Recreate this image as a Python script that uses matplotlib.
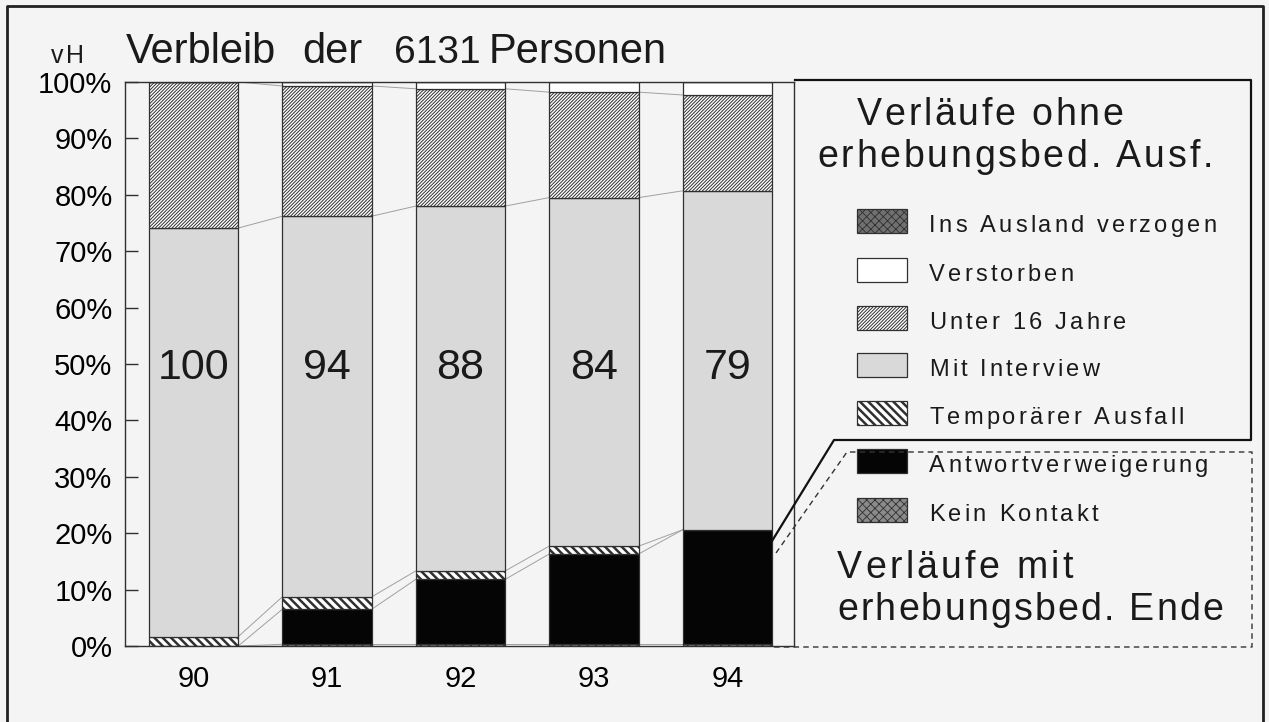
"""Verbleib der 6131 Personen - stacked bars per wave, scanned report figure."""
import matplotlib
matplotlib.use("Agg")
import matplotlib.pyplot as plt
from matplotlib.patches import Rectangle
from matplotlib.font_manager import FontProperties, findfont
from matplotlib.ft2font import FT2Font

W, H = 1269, 722

# data (vH of the 6131 persons of wave 90)
waves = ["90", "91", "92", "93", "94"]
bar_labels = ["100", "94", "88", "84", "79"]
kein_kontakt = [0.0, 0.3, 0.3, 0.3, 0.3]
antwortverweigerung = [0.0, 6.2, 11.5, 16.0, 20.3]
temp_ausfall = [1.65, 2.2, 1.5, 1.4, 0.0]
mit_interview = [72.45, 67.5, 64.7, 61.8, 60.1]
unter_16 = [25.9, 23.1, 20.8, 18.7, 17.0]
verstorben = [0.0, 0.7, 1.2, 1.8, 2.3]
ausland = [0.0, 0.0, 0.0, 0.0, 0.0]
yticks = [0, 10, 20, 30, 40, 50, 60, 70, 80, 90, 100]

legend_names = ["Ins Ausland verzogen", "Verstorben", "Unter 16 Jahre", "Mit Interview",
                "Temporärer Ausfall", "Antwortverweigerung", "Kein Kontakt"]

EDGE = "#303030"
STYLE = {
    "Kein Kontakt": dict(facecolor="#8a8a8a", hatch="xxxx", hlw=0.6),
    "Antwortverweigerung": dict(facecolor="#050505", hatch=None, hlw=0.6),
    "Temporärer Ausfall": dict(facecolor="white", hatch="\\\\\\\\", hlw=1.8),
    "Mit Interview": dict(facecolor="#d9d9d9", hatch=None, hlw=0.6),
    "Unter 16 Jahre": dict(facecolor="white", hatch="//////////", hlw=0.7),
    "Verstorben": dict(facecolor="white", hatch=None, hlw=0.6),
    "Ins Ausland verzogen": dict(facecolor="#707070", hatch="xxxx", hlw=0.6),
}

stack = [
    ("Kein Kontakt", kein_kontakt),
    ("Antwortverweigerung", antwortverweigerung),
    ("Temporärer Ausfall", temp_ausfall),
    ("Mit Interview", mit_interview),
    ("Unter 16 Jahre", unter_16),
    ("Verstorben", verstorben),
    ("Ins Ausland verzogen", ausland),
]

plt.rcParams["font.family"] = ["Liberation Sans", "DejaVu Sans"]
plt.rcParams["text.color"] = "#1a1a1a"

_font = FT2Font(findfont(FontProperties(family="Liberation Sans")), hinting_factor=1)


def spaced_text(ax, x, y, s, size, track, ha="left"):
    """Text with extra letter spacing (pixels), drawn char by char."""
    _font.set_size(size, 100)
    adv = [_font.load_char(ord(c)).linearHoriAdvance / 65536 for c in s]
    total = sum(adv) + track * (len(s) - 1)
    cx = x - total / 2 if ha == "center" else x
    for ch, a in zip(s, adv):
        if ch != " ":
            ax.text(cx, y, ch, fontsize=size, ha="left", va="baseline")
        cx += a + track


fig = plt.figure(figsize=(W / 100, H / 100), dpi=100, facecolor="#f4f4f4")
ax = fig.add_axes([125 / W, 1 - 646 / H, (794 - 125) / W, (646 - 82) / H])
ax.set_facecolor("none")

x = list(range(len(waves)))
width = 0.67
bottoms = [0.0] * len(waves)
levels = []
for name, vals in stack:
    st = STYLE[name]
    with plt.rc_context({"hatch.linewidth": st["hlw"]}):
        ax.bar(x, vals, width, bottom=bottoms, facecolor=st["facecolor"], hatch=st["hatch"],
               edgecolor=EDGE, linewidth=0.9, zorder=2)
    bottoms = [b + v for b, v in zip(bottoms, vals)]
    levels.append(list(bottoms))

# thin connecting lines between neighbouring bars
for lev in levels[:5]:
    for i in range(len(x) - 1):
        ax.plot([x[i] + width / 2, x[i + 1] - width / 2], [lev[i], lev[i + 1]],
                color="#a0a0a0", linewidth=0.7, zorder=1)

for xi, lab in zip(x, bar_labels):
    ax.text(xi, 49.3, lab, ha="center", va="center", fontsize=31, zorder=3)

ax.set_xlim(-0.513, 4.5)
ax.set_ylim(0, 100)
ax.set_yticks(yticks)
ax.set_yticklabels([f"{t}%" for t in yticks], fontsize=21)
ax.set_xticks(x)
ax.set_xticklabels(waves, fontsize=21)
ax.tick_params(axis="y", direction="in", length=9, width=1, pad=9, color=EDGE)
ax.tick_params(axis="x", length=0, pad=14)
for sp in ax.spines.values():
    sp.set_color(EDGE)
    sp.set_linewidth(1.0)

# overlay in pixel coordinates for frame, title and legend
ov = fig.add_axes([0, 0, 1, 1], zorder=5)
ov.set_xlim(0, W)
ov.set_ylim(H, 0)
ov.axis("off")
ov.patch.set_alpha(0)

ov.plot([7, 7, 1263, 1263], [730, 6, 6, 730], color="#222222", linewidth=2)
spaced_text(ov, 51, 63, "vH", 18, 2)
ov.text(126, 63, "Verbleib", fontsize=30, va="baseline")
ov.text(302, 63, "der", fontsize=30, va="baseline")
ov.text(394, 63, "6131", fontsize=28, va="baseline")
ov.text(489, 63, "Personen", fontsize=30, va="baseline")

ov.plot([795, 1251, 1251, 834, 772], [80, 80, 440, 440, 541], color="#111111", linewidth=1.6)
ov.plot([776, 847, 1252, 1252, 772], [553, 452, 452, 647, 647], color="#333333",
        linewidth=1.0, linestyle=(0, (4, 3)))

spaced_text(ov, 990, 125, "Verläufe ohne", 27, 2.5, ha="center")
spaced_text(ov, 1015, 167, "erhebungsbed. Ausf.", 27, 2.5, ha="center")
spaced_text(ov, 837, 578, "Verläufe mit", 27, 3.0)
spaced_text(ov, 837, 620, "erhebungsbed. Ende", 27, 2.0)

legend_bottom = [233, 282, 330, 377, 425, 473, 522]
for name, yb in zip(legend_names, legend_bottom):
    st = STYLE[name]
    with plt.rc_context({"hatch.linewidth": st["hlw"]}):
        ov.add_patch(Rectangle((857, yb - 24), 50, 24, facecolor=st["facecolor"], hatch=st["hatch"],
                               edgecolor=EDGE, linewidth=0.9))
    spaced_text(ov, 929, yb - 1, name, 17, 3.0)

fig.savefig("out.png", dpi=100, facecolor=fig.get_facecolor())
